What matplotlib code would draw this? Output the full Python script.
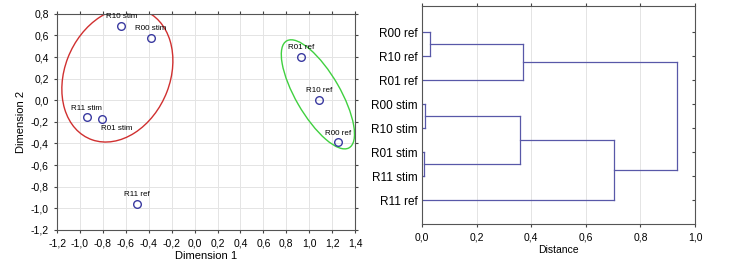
import numpy as np
import matplotlib
matplotlib.use("Agg")
import matplotlib.pyplot as plt
from matplotlib.patches import Ellipse
from matplotlib.ticker import FuncFormatter

plt.rcParams["font.family"] = ["Liberation Sans", "DejaVu Sans"]

# MDS coordinates
labels = ["R10 stim", "R00 stim", "R11 stim", "R01 stim", "R11 ref", "R01 ref", "R10 ref", "R00 ref"]
dim1 = [-0.64, -0.38, -0.94, -0.81, -0.50, 0.93, 1.09, 1.25]
dim2 = [0.69, 0.58, -0.157, -0.172, -0.96, 0.405, 0.007, -0.39]

# cluster tree (leaf order top to bottom)
leaves = ["R00 ref", "R10 ref", "R01 ref", "R00 stim", "R10 stim", "R01 stim", "R11 stim", "R11 ref"]
# merges: (left node, right node, distance); nodes >= 8 are earlier merges
merges = [
    (0, 1, 0.03),
    (8, 2, 0.37),
    (3, 4, 0.01),
    (5, 6, 0.007),
    (10, 11, 0.36),
    (12, 7, 0.705),
    (9, 13, 0.933),
]


def fmt(v, p):
    s = f"{v:.1f}".replace(".", ",")
    return "0,0" if s == "-0,0" else s


comma = FuncFormatter(fmt)
blue = "#3a3aa0"
tree_col = "#5858a8"

fig = plt.figure(figsize=(7.32, 2.67), dpi=100)

# ---- left: scatter
ax = fig.add_axes([0.078, 0.139, 0.407, 0.809])
ax.plot(dim1, dim2, "o", mfc="none", mec=blue, ms=5.5, mew=1.0)
for name, x, y in zip(labels, dim1, dim2):
    if name == "R01 stim":
        ax.annotate(name, (x, y), xytext=(15, -10), textcoords="offset pixels",
                    ha="center", va="center", fontsize=5.8)
    else:
        ax.annotate(name, (x, y), xytext=(0, 9), textcoords="offset pixels",
                    ha="center", va="center", fontsize=5.8)
ax.add_patch(Ellipse((-0.674, 0.235), 1.28, 0.92, angle=70, fill=False, ec="#d03030", lw=1.0))
ax.add_patch(Ellipse((1.076, 0.055), 1.13, 0.39, angle=-61.5, fill=False, ec="#40d040", lw=1.0))
ax.set_xlim(-1.2, 1.4)
ax.set_ylim(-1.2, 0.8)
ax.set_xticks(np.arange(-1.2, 1.41, 0.2))
ax.set_yticks(np.arange(-1.2, 0.81, 0.2))
ax.xaxis.set_major_formatter(comma)
ax.yaxis.set_major_formatter(comma)
ax.grid(color="#e4e4e4", lw=0.7)
ax.set_axisbelow(True)
ax.tick_params(labelsize=7.5, length=2.5, color="#444444", top=True, right=True)
ax.set_xlabel("Dimension 1", fontsize=8, labelpad=2)
ax.set_ylabel("Dimension 2", fontsize=8, labelpad=3)
for s in ax.spines.values():
    s.set_color("#555555")

# ---- right: dendrogram
ax2 = fig.add_axes([0.5765, 0.161, 0.373, 0.8165])
pos = {i: float(i + 1) for i in range(len(leaves))}
height = {i: 0.0 for i in range(len(leaves))}
node = len(leaves)
for a, b, d in merges:
    ya, yb = pos[a], pos[b]
    ax2.plot([height[a], d], [ya, ya], color=tree_col, lw=0.9)
    ax2.plot([height[b], d], [yb, yb], color=tree_col, lw=0.9)
    ax2.plot([d, d], [ya, yb], color=tree_col, lw=0.9)
    pos[node] = (ya + yb) / 2
    height[node] = d
    node += 1
ax2.set_xlim(0, 1.0)
ax2.set_ylim(9.0, -0.1)
ax2.set_xticks(np.arange(0, 1.01, 0.2))
ax2.xaxis.set_major_formatter(comma)
ax2.set_yticks(range(1, len(leaves) + 1))
ax2.set_yticklabels(leaves)
ax2.grid(axis="x", color="#e4e4e4", lw=0.7)
ax2.set_axisbelow(True)
ax2.tick_params(axis="x", labelsize=7.5, length=2.5, color="#444444", top=True)
ax2.tick_params(axis="y", labelsize=8.5, left=False, right=True, direction="in",
                length=2.5, color="#444444", pad=3)
ax2.set_xlabel("Distance", fontsize=7.5, labelpad=2)
for s in ax2.spines.values():
    s.set_color("#555555")

fig.savefig("out.png", dpi=100)
